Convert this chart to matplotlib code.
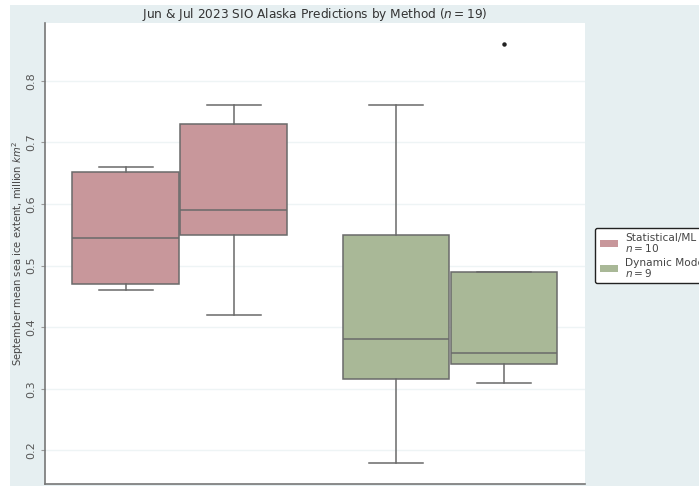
import matplotlib
matplotlib.use("Agg")
import matplotlib.pyplot as plt
from matplotlib.patches import Patch, Rectangle

# Box statistics per group (Statistical/ML Jun, Jul; Dynamic Model Jun, Jul)
groups = ["Statistical/ML Jun", "Statistical/ML Jul", "Dynamic Model Jun", "Dynamic Model Jul"]
whisker_low = [0.46, 0.42, 0.18, 0.31]
q1 = [0.47, 0.55, 0.316, 0.34]
median = [0.544, 0.59, 0.38, 0.358]
q3 = [0.651, 0.73, 0.55, 0.489]
whisker_high = [0.66, 0.76, 0.76, 0.489]
fliers = [[], [], [], [0.86]]
positions = [-0.2, 0.2, 0.8, 1.2]
box_colors = ["#c8979b", "#c8979b", "#a9b897", "#a9b897"]

methods = ["Statistical/ML", "Dynamic Model"]
method_n = [10, 9]
method_colors = ["#c8979b", "#a9b897"]
yticks = [0.2, 0.3, 0.4, 0.5, 0.6, 0.7, 0.8]

fig = plt.figure(figsize=(6.99, 4.86), dpi=100, facecolor="white")
fig.patches.append(Rectangle((10 / 699, 0), 1, 481 / 486, transform=fig.transFigure,
                             facecolor="#e6eff1", edgecolor="none", zorder=-10))
ax = fig.add_axes([44.7 / 699, 2.3 / 486, (585 - 44.7) / 699, (483.7 - 22.7) / 486])
ax.set_facecolor("white")

stats = []
for i in range(len(groups)):
    stats.append(dict(whislo=whisker_low[i], q1=q1[i], med=median[i], q3=q3[i],
                      whishi=whisker_high[i], fliers=fliers[i], label=groups[i]))

edge = "#6a6a6a"
bp = ax.bxp(stats, positions=positions, widths=0.395, patch_artist=True, showcaps=True,
            boxprops=dict(edgecolor=edge, linewidth=1.1),
            medianprops=dict(color=edge, linewidth=1.1),
            whiskerprops=dict(color=edge, linewidth=1.1),
            capprops=dict(color=edge, linewidth=1.1),
            flierprops=dict(marker="o", markersize=2.2, markerfacecolor="#222222",
                            markeredgecolor="#222222"),
            capwidths=0.2)
for patch, c in zip(bp["boxes"], box_colors):
    patch.set_facecolor(c)

ax.set_xlim(-0.5, 1.5)
ax.set_ylim(0.146, 0.894)
ax.set_xticks([])
ax.set_yticks(yticks)
ax.set_yticklabels([f"{t:.1f}" for t in yticks], rotation=90, va="center",
                   fontsize=8, color="#555555")
ax.tick_params(axis="y", length=3, color="#999999", pad=3)
ax.grid(axis="y", color="#eef4f5", linewidth=1)
ax.set_axisbelow(True)
for s in ["top", "right"]:
    ax.spines[s].set_visible(False)
for s in ["left", "bottom"]:
    ax.spines[s].set_color("#777777")
    ax.spines[s].set_linewidth(1.2)

ax.set_ylabel("September mean sea ice extent, million $km^2$", fontsize=7.2, color="#444444",
              labelpad=0)
ax.set_title("Jun & Jul 2023 SIO Alaska Predictions by Method ($n=19$)", fontsize=8.7,
             color="#333333", pad=3)

handles = [Patch(facecolor=c, edgecolor="none") for c in method_colors]
labels = [f"{m}\n$n={n}$" for m, n in zip(methods, method_n)]
leg = fig.legend(handles, labels, loc="upper left", bbox_to_anchor=(590 / 699, 263 / 486),
                 fontsize=7.6, frameon=True, handlelength=1.7, handleheight=0.6,
                 borderpad=0.45, labelspacing=0.35, handletextpad=0.7)
leg.get_frame().set_edgecolor("#222222")
leg.get_frame().set_linewidth(1.0)
leg.get_frame().set_alpha(1)
for t in leg.get_texts():
    t.set_color("#444444")
    t.set_linespacing(0.9)

fig.savefig("out.png", dpi=100, facecolor=fig.get_facecolor())
